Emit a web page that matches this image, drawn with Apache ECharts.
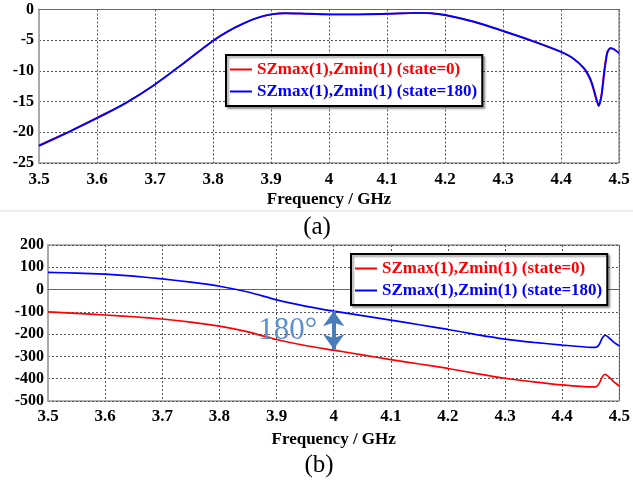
<!DOCTYPE html>
<html>
<head>
<meta charset="utf-8">
<script src="https://cdn.jsdelivr.net/npm/echarts@6/dist/echarts.min.js"></script>
<style>
  html, body { margin: 0; padding: 0; background: #fff; }
  #chart { width: 633px; height: 481px; }
</style>
</head>
<body>
<div id="chart"></div>
<script>
// (a) magnitude, dB
const freqA = [3.5, 3.55, 3.6, 3.65, 3.7, 3.75, 3.8, 3.825, 3.85, 3.875, 3.9, 3.925, 3.95, 4.0, 4.05, 4.1, 4.15, 4.175, 4.2, 4.25, 4.3, 4.35, 4.4, 4.42, 4.44, 4.45, 4.455, 4.46, 4.465, 4.47, 4.475, 4.48, 4.485, 4.49, 4.5];
const magState0 = [-22.1, -20.0, -17.6, -15.2, -12.2, -8.7, -5.1, -3.6, -2.4, -1.4, -0.8, -0.6, -0.65, -0.8, -0.8, -0.7, -0.55, -0.6, -0.9, -2.0, -3.5, -5.1, -6.9, -7.9, -9.7, -11.4, -12.8, -14.5, -15.7, -13.5, -9.4, -6.8, -6.3, -6.4, -7.1];
const magState180 = [-22.2, -20.0, -17.7, -15.2, -12.2, -8.7, -5.1, -3.6, -2.4, -1.4, -0.8, -0.6, -0.65, -0.8, -0.8, -0.7, -0.55, -0.6, -0.9, -2.0, -3.5, -5.1, -6.9, -7.9, -9.6, -11.2, -12.5, -14.2, -15.7, -14.0, -10.0, -7.0, -6.3, -6.4, -7.1];

// (b) phase, degrees
const freqB = [3.5, 3.55, 3.6, 3.65, 3.7, 3.75, 3.8, 3.85, 3.9, 3.95, 4.0, 4.05, 4.1, 4.15, 4.2, 4.25, 4.3, 4.35, 4.4, 4.45, 4.46, 4.465, 4.47, 4.475, 4.48, 4.49, 4.5];
const phaseState0 = [-100, -107, -114, -122, -132, -146, -164, -190, -224, -251, -272, -293, -314, -334, -354, -377, -398, -414, -428, -437, -435, -420, -392, -380, -388, -413, -433];
const phaseState180 = [77, 74, 69, 60, 48, 33, 15, -11, -46, -74, -97, -117, -137, -158, -179, -202, -222, -237, -249, -259, -258, -245, -218, -205, -212, -236, -253];

const name0 = "SZmax(1),Zmin(1) (state=0)";
const name180 = "SZmax(1),Zmin(1) (state=180)";

const serif = "'Liberation Serif', 'Times New Roman', serif";
const pairs = (xs, ys) => xs.map((x, i) => [x, ys[i]]);

const bold = (size) => ({ color: "#000", fontFamily: serif, fontWeight: "bold", fontSize: size });
const gridLine = { show: true, lineStyle: { color: "#555", type: [2, 2], width: 1 } };

const xAxisBase = {
  type: "value",
  min: 3.5,
  max: 4.5,
  interval: 0.1,
  name: "Frequency / GHz",
  nameLocation: "middle",
  nameTextStyle: bold(17),
  axisLine: { lineStyle: { color: "#666", width: 1 } },
  axisTick: { show: false },
  splitLine: gridLine,
};

const legendBase = {
  orient: "vertical",
  padding: [6, 5, 6, 4], itemGap: 5, itemWidth: 22, itemHeight: 2, icon: "rect",
  backgroundColor: "#fff", borderColor: "#000", borderWidth: 2,
  shadowColor: "rgba(0,0,0,0.35)", shadowOffsetX: 2, shadowOffsetY: 2, shadowBlur: 2,
  textStyle: { fontFamily: serif, fontWeight: "bold", fontSize: 17 },
  data: [
    { name: name0, textStyle: { color: "#ff0000" } },
    { name: name180, textStyle: { color: "#0000ff" } },
  ],
};

const chart = echarts.init(document.getElementById("chart"));
chart.setOption({
  animation: false,
  backgroundColor: "#fff",
  grid: [
    { left: 39, right: 14, top: 9.5, height: 153.5, show: true, borderColor: "#666", borderWidth: 1 },
    { left: 48, right: 13, top: 245, height: 156, show: true, borderColor: "#666", borderWidth: 1 },
  ],
  xAxis: [
    Object.assign({}, xAxisBase, { gridIndex: 0, nameGap: 28, axisLabel: Object.assign({ margin: 8 }, bold(17)) }),
    Object.assign({}, xAxisBase, { gridIndex: 1, nameGap: 30, axisLabel: Object.assign({ margin: 7 }, bold(17)) }),
  ],
  yAxis: [
    {
      gridIndex: 0, type: "value", min: -25, max: 0, interval: 5,
      axisLine: { show: true, lineStyle: { color: "#aaa", width: 2 } },
      axisTick: { show: false },
      axisLabel: Object.assign({ margin: 5 }, bold(16)),
      splitLine: gridLine,
    },
    {
      gridIndex: 1, type: "value", min: -500, max: 200, interval: 100,
      axisLine: { show: true, lineStyle: { color: "#aaa", width: 2 } },
      axisTick: { show: false },
      axisLabel: Object.assign({ margin: 4 }, bold(16)),
      splitLine: gridLine,
    },
  ],
  legend: [
    Object.assign({}, legendBase, { left: 226, top: 55 }),
    Object.assign({}, legendBase, { left: 351, top: 254 }),
  ],
  series: [
    {
      name: name0, type: "line", xAxisIndex: 0, yAxisIndex: 0,
      data: pairs(freqA, magState0), showSymbol: false, smooth: 0.2,
      lineStyle: { color: "#ff0000", width: 1.5 }, itemStyle: { color: "#ff0000" },
    },
    {
      name: name180, type: "line", xAxisIndex: 0, yAxisIndex: 0,
      data: pairs(freqA, magState180), showSymbol: false, smooth: 0.2,
      lineStyle: { color: "#0000ff", width: 1.9 }, itemStyle: { color: "#0000ff" },
    },
    {
      name: name0, type: "line", xAxisIndex: 1, yAxisIndex: 1,
      data: pairs(freqB, phaseState0), showSymbol: false, smooth: 0.2,
      lineStyle: { color: "#ff0000", width: 1.7 }, itemStyle: { color: "#ff0000" },
    },
    {
      name: name180, type: "line", xAxisIndex: 1, yAxisIndex: 1,
      data: pairs(freqB, phaseState180), showSymbol: false, smooth: 0.2,
      lineStyle: { color: "#0000ff", width: 1.7 }, itemStyle: { color: "#0000ff" },
      z: 3,
      markLine: {
        silent: true,
        symbol: ["arrow", "arrow"],
        symbolSize: [16, 15],
        label: { show: false },
        lineStyle: { color: "#4a7ebb", width: 4, type: "solid" },
        data: [[{ coord: [4.0, phaseState180[10]] }, { coord: [4.0, phaseState0[10] + 4] }]],
      },
      markPoint: {
        silent: true,
        symbol: "circle",
        symbolSize: 1,
        itemStyle: { color: "rgba(0,0,0,0)" },
        label: {
          show: true, position: "left", distance: 16,
          formatter: "180°", fontFamily: serif, fontSize: 31, color: "#5b8fd0",
        },
        data: [{ coord: [4.0, (phaseState180[10] + phaseState0[10]) / 2] }],
      },
    },
  ],
  graphic: [
    { type: "line", shape: { x1: 0, y1: 211, x2: 633, y2: 211 }, style: { stroke: "#ddd", lineWidth: 1 } },
    { type: "text", style: { x: 317, y: 227, text: "(a)", font: "25px " + serif, fill: "#000", align: "center", verticalAlign: "middle" } },
    { type: "text", style: { x: 319, y: 465, text: "(b)", font: "25px " + serif, fill: "#000", align: "center", verticalAlign: "middle" } },
  ],
});
</script>
</body>
</html>
